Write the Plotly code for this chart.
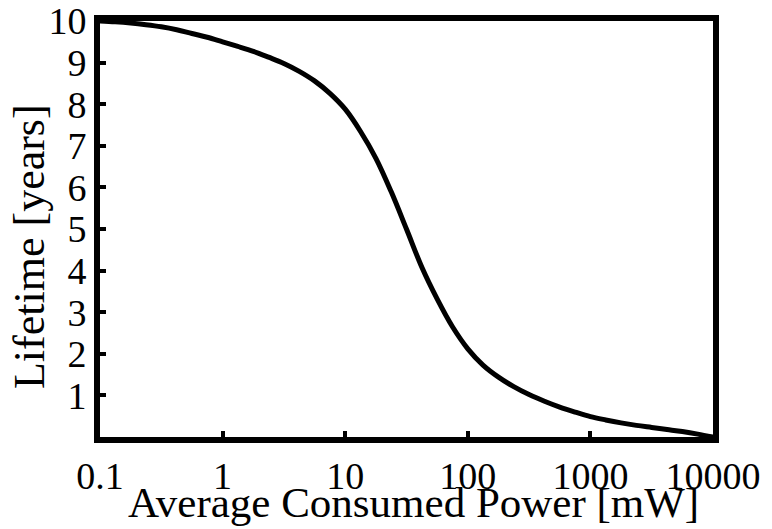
import plotly.graph_objects as go

power_mw = [0.1, 0.133, 0.178, 0.237, 0.316, 0.422, 0.562, 0.75,
            1, 1.33, 1.78, 2.37, 3.16, 4.22, 5.62, 7.5,
            10, 13.3, 17.8, 23.7, 31.6, 42.2, 56.2, 75,
            100, 133, 178, 237, 316, 422, 562, 750,
            1000, 1334, 1778, 2371, 3162, 4217, 5623, 7499, 10000]
lifetime_years = [10, 9.98, 9.95, 9.91, 9.86, 9.79, 9.70, 9.61,
                  9.50, 9.39, 9.27, 9.13, 8.98, 8.79, 8.56, 8.26,
                  7.88, 7.35, 6.70, 5.90, 5.00, 4.08, 3.32, 2.65,
                  2.12, 1.73, 1.44, 1.21, 1.02, 0.86, 0.72, 0.60,
                  0.49, 0.41, 0.34, 0.28, 0.23, 0.18, 0.13, 0.07, 0.0]

x_ticks = [0.1, 1, 10, 100, 1000, 10000]
x_tick_labels = ["0.1", "1", "10", "100", "1000", "10000"]
y_ticks = [1, 2, 3, 4, 5, 6, 7, 8, 9, 10]
y_tick_labels = [str(v) for v in y_ticks]

x_title = "Average Consumed Power [mW]"
y_title = "Lifetime [years]"

FONT = "Liberation Serif"

fig = go.Figure()
fig.add_trace(go.Scatter(
    x=power_mw, y=lifetime_years, mode="lines",
    line=dict(color="black", width=5, shape="spline", smoothing=1.0),
    showlegend=False,
))

fig.update_layout(
    width=772, height=529,
    margin=dict(l=100, r=59, t=21, b=92),
    paper_bgcolor="white", plot_bgcolor="white",
    font=dict(family=FONT, color="black", size=38),
)
fig.update_xaxes(
    type="log", range=[-1, 4], automargin=False,
    tickvals=x_ticks, ticktext=x_tick_labels,
    ticks="inside", ticklen=6, tickwidth=4, tickcolor="black",
    showline=True, linewidth=6, linecolor="black", mirror=True,
    showgrid=False, zeroline=False,
    tickfont=dict(family=FONT, size=38),
)
fig.update_yaxes(
    range=[0, 10], automargin=False,
    tickvals=y_ticks, ticktext=y_tick_labels,
    ticks="inside", ticklen=6, tickwidth=4, tickcolor="black",
    showline=True, linewidth=6, linecolor="black", mirror=True,
    showgrid=False, zeroline=False,
    tickfont=dict(family=FONT, size=38),
)

fig.add_annotation(
    text=x_title, xref="paper", yref="paper", x=0.511, y=-0.158,
    xanchor="center", yanchor="middle", showarrow=False,
    font=dict(family=FONT, size=43, color="black"),
)
fig.add_annotation(
    text=y_title, xref="paper", yref="paper", x=-0.114, y=0.457,
    xanchor="center", yanchor="middle", showarrow=False, textangle=-90,
    font=dict(family=FONT, size=44, color="black"),
)

fig.write_html("out.html")
